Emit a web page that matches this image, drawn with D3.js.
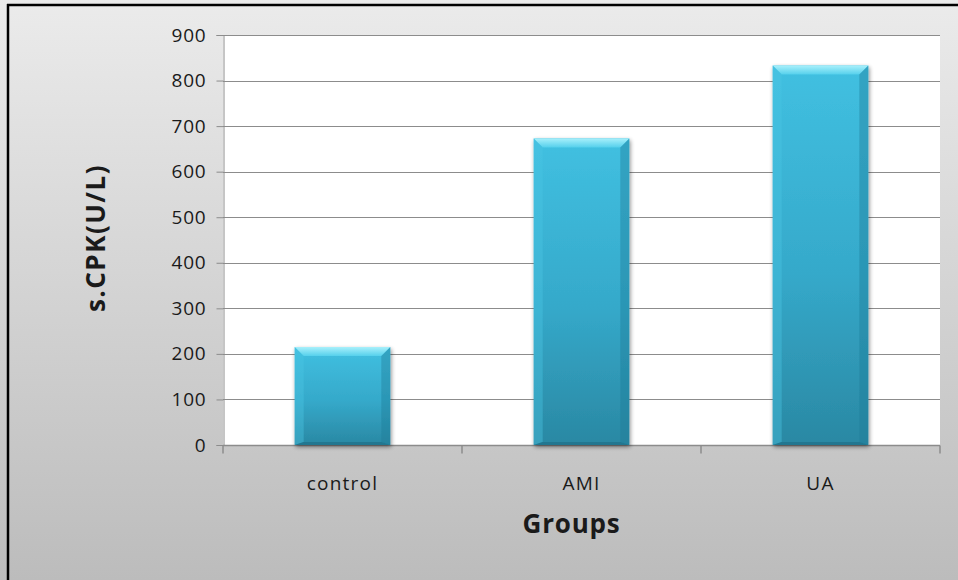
<!DOCTYPE html>
<html>
<head>
<meta charset="utf-8">
<script src="https://cdn.jsdelivr.net/npm/d3@7"></script>
<style>
  html, body { margin: 0; padding: 0; background: #ffffff; }
  svg { display: block; }
</style>
</head>
<body>
<svg id="chart" width="958" height="580"></svg>
<script>
// s.CPK by group
const categories = ["control", "AMI", "UA"];
const values = [215, 673, 833];
const yTicks = [0, 100, 200, 300, 400, 500, 600, 700, 800, 900];

const W = 958, H = 580;
const plot = { left: 223, right: 940, top: 35, bottom: 445 };
const font = "'Open Sans', 'Liberation Sans', sans-serif";

const svg = d3.select("#chart");
const defs = svg.append("defs");

// Chart area background: light grey fading darker toward the bottom
const bg = defs.append("linearGradient").attr("id", "bg")
  .attr("x1", 0).attr("y1", 0).attr("x2", 0).attr("y2", 1);
bg.append("stop").attr("offset", "0%").attr("stop-color", "#ebebeb");
bg.append("stop").attr("offset", "100%").attr("stop-color", "#bcbcbc");

// Bar body gradient
const barG = defs.append("linearGradient").attr("id", "barFill")
  .attr("x1", 0).attr("y1", 0).attr("x2", 0).attr("y2", 1);
barG.append("stop").attr("offset", "0%").attr("stop-color", "#41c0e1");
barG.append("stop").attr("offset", "55%").attr("stop-color", "#35a9ca");
barG.append("stop").attr("offset", "100%").attr("stop-color", "#2a88a3");

const topG = defs.append("linearGradient").attr("id", "bevelTop")
  .attr("x1", 0).attr("y1", 0).attr("x2", 0).attr("y2", 1);
topG.append("stop").attr("offset", "0%").attr("stop-color", "#a8f0fb");
topG.append("stop").attr("offset", "100%").attr("stop-color", "#55d0ec");

const shadow = defs.append("filter").attr("id", "shadow")
  .attr("x", "-20%").attr("y", "-20%").attr("width", "140%").attr("height", "140%");
shadow.append("feGaussianBlur").attr("in", "SourceAlpha").attr("stdDeviation", 2);
shadow.append("feOffset").attr("dx", 1).attr("dy", 2).attr("result", "ob");
shadow.append("feComponentTransfer").append("feFuncA").attr("type", "linear").attr("slope", 0.45);
const merge = shadow.append("feMerge");
merge.append("feMergeNode");
merge.append("feMergeNode").attr("in", "SourceGraphic");

svg.append("rect").attr("x", 0).attr("y", 0).attr("width", W).attr("height", H)
  .attr("fill", "url(#bg)");

// Frame edges (top and left)
svg.append("line").attr("x1", 7).attr("x2", W).attr("y1", 5).attr("y2", 5)
  .attr("stroke", "#000").attr("stroke-width", 2.5);
svg.append("line").attr("x1", 8).attr("x2", 8).attr("y1", 4).attr("y2", H)
  .attr("stroke", "#000").attr("stroke-width", 2.5);

const x = d3.scaleBand().domain(categories).range([plot.left, plot.right])
  .paddingInner(0.6).paddingOuter(0.3);
const y = d3.scaleLinear().domain([0, 900]).range([plot.bottom, plot.top]);

// Plot area
svg.append("rect").attr("x", plot.left).attr("y", plot.top)
  .attr("width", plot.right - plot.left).attr("height", plot.bottom - plot.top)
  .attr("fill", "#ffffff");

// Gridlines
svg.append("g").selectAll("line").data(yTicks.filter(d => d > 0)).join("line")
  .attr("x1", plot.left).attr("x2", plot.right)
  .attr("y1", d => Math.round(y(d)) + 0.5).attr("y2", d => Math.round(y(d)) + 0.5)
  .attr("stroke", "#8c8c8c").attr("stroke-width", 1);

// Y axis
const yAxis = svg.append("g").attr("transform", `translate(${plot.left + 0.5},0)`)
  .call(d3.axisLeft(y).tickValues(yTicks).tickSize(7).tickPadding(10));
yAxis.select(".domain").attr("stroke", "#8c8c8c");
yAxis.selectAll(".tick line").attr("stroke", "#8c8c8c");
yAxis.selectAll(".tick text").attr("font-family", font).attr("font-size", 19)
  .attr("letter-spacing", 0.8).attr("fill", "#1a1a1a");

// X axis with ticks at category boundaries
const xAxisG = svg.append("g").attr("transform", `translate(0,${plot.bottom + 0.5})`);
xAxisG.append("line").attr("x1", plot.left).attr("x2", plot.right)
  .attr("stroke", "#8c8c8c").attr("stroke-width", 1.5);
const step = (plot.right - plot.left) / categories.length;
xAxisG.selectAll("line.tk").data(d3.range(categories.length + 1)).join("line")
  .attr("class", "tk")
  .attr("x1", i => plot.left + i * step).attr("x2", i => plot.left + i * step)
  .attr("y1", 0).attr("y2", 8)
  .attr("stroke", "#8c8c8c").attr("stroke-width", 1.5);
xAxisG.selectAll("text").data(categories).join("text")
  .attr("x", d => x(d) + x.bandwidth() / 2).attr("y", 44)
  .attr("text-anchor", "middle")
  .attr("font-family", font).attr("font-size", 19).attr("letter-spacing", 1.2)
  .attr("fill", "#1a1a1a")
  .text(d => d);

// Bars with bevelled edges
const bev = 9;
const bars = svg.append("g").selectAll("g").data(categories.map((c, i) => ({ c, v: values[i] })))
  .join("g").attr("filter", "url(#shadow)");
bars.append("rect")
  .attr("x", d => x(d.c)).attr("y", d => y(d.v))
  .attr("width", x.bandwidth()).attr("height", d => y(0) - y(d.v))
  .attr("fill", "url(#barFill)");
// top bevel
bars.append("path").attr("d", d => {
  const x0 = x(d.c), x1 = x0 + x.bandwidth(), y0 = y(d.v);
  return `M${x0},${y0}L${x1},${y0}L${x1 - bev},${y0 + bev}L${x0 + bev},${y0 + bev}Z`;
}).attr("fill", "url(#bevelTop)");
// left bevel
bars.append("path").attr("d", d => {
  const x0 = x(d.c), y0 = y(d.v), y1 = y(0);
  return `M${x0},${y0}L${x0 + bev},${y0 + bev}L${x0 + bev},${y1 - 3}L${x0},${y1}Z`;
}).attr("fill", "#4cc6e4").attr("opacity", 0.4);
// right bevel
bars.append("path").attr("d", d => {
  const x1 = x(d.c) + x.bandwidth(), y0 = y(d.v), y1 = y(0);
  return `M${x1},${y0}L${x1 - bev},${y0 + bev}L${x1 - bev},${y1 - 3}L${x1},${y1}Z`;
}).attr("fill", "#1f7a95").attr("opacity", 0.4);
// bottom bevel
bars.append("path").attr("d", d => {
  const x0 = x(d.c), x1 = x0 + x.bandwidth(), y1 = y(0);
  return `M${x0},${y1}L${x1},${y1}L${x1 - bev},${y1 - 3}L${x0 + bev},${y1 - 3}Z`;
}).attr("fill", "#1d6f88").attr("opacity", 0.7);

// Axis titles
svg.append("text").attr("x", (plot.left + plot.right) / 2 - 10).attr("y", 533)
  .attr("text-anchor", "middle").attr("font-family", font)
  .attr("font-size", 26).attr("font-weight", "bold").attr("letter-spacing", 0.8)
  .attr("fill", "#1a1a1a")
  .text("Groups");
svg.append("text")
  .attr("transform", `translate(105,${(plot.top + plot.bottom) / 2 - 2}) rotate(-90)`)
  .attr("text-anchor", "middle").attr("font-family", font)
  .attr("font-size", 26).attr("font-weight", "bold").attr("letter-spacing", 1.5)
  .attr("fill", "#1a1a1a")
  .text("s.CPK(U/L)");
</script>
</body>
</html>
